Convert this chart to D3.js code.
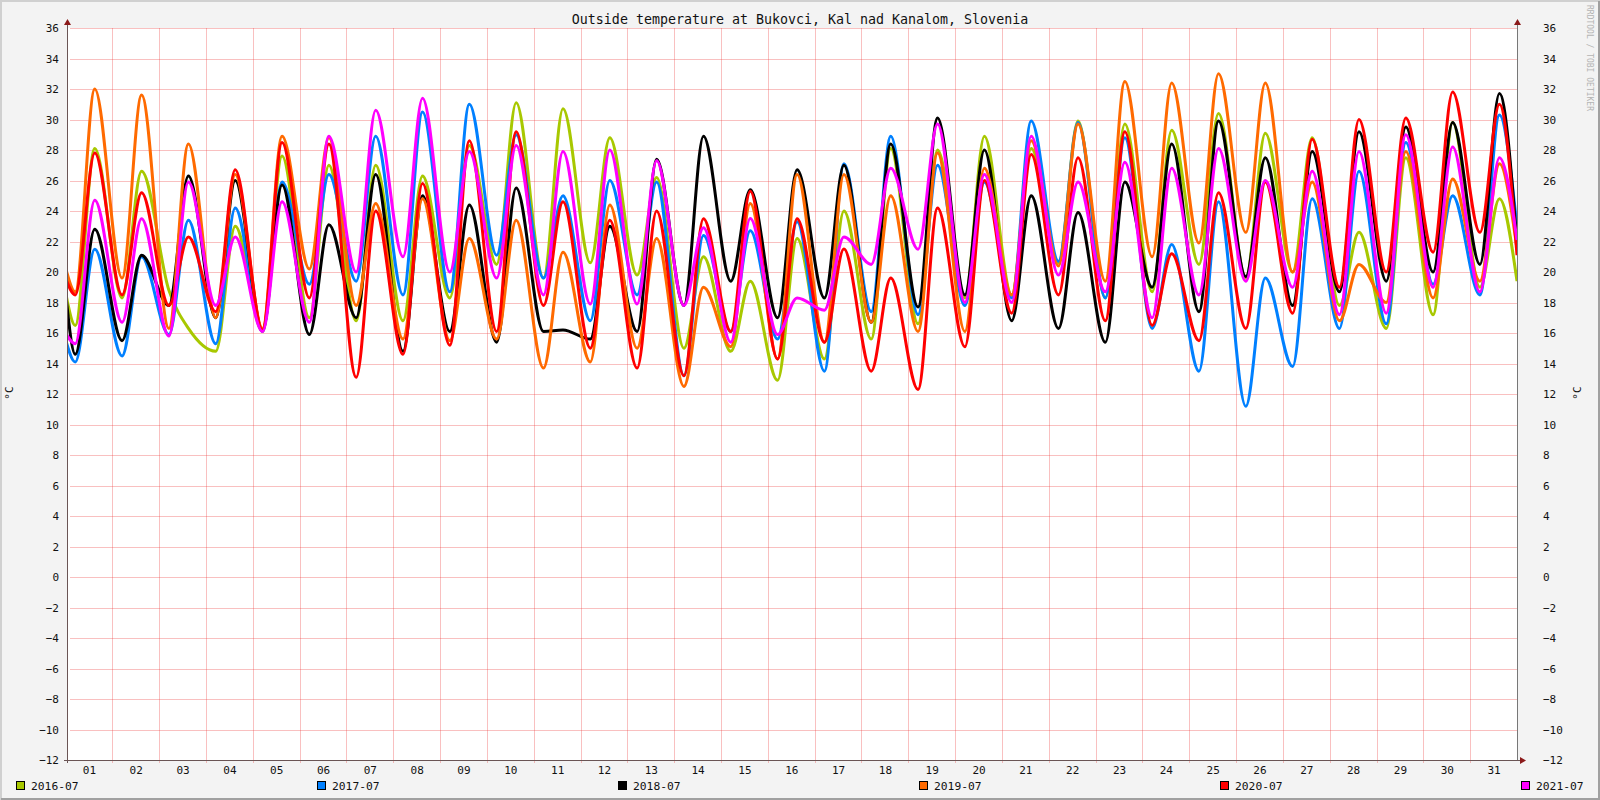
<!DOCTYPE html>
<html>
<head>
<meta charset="utf-8">
<script src="https://cdn.jsdelivr.net/npm/d3@7"></script>
<style>
  body { margin: 0; background: #f3f3f3; }
  svg { display: block; }
  text { font-family: "DejaVu Sans Mono", monospace; }
</style>
</head>
<body>
<svg id="chart" width="1600" height="800"></svg>
<script>
const dayLabels = ['01','02','03','04','05','06','07','08','09','10','11','12','13','14','15','16',
  '17','18','19','20','21','22','23','24','25','26','27','28','29','30','31'];
const yTicks = [-12,-10,-8,-6,-4,-2,0,2,4,6,8,10,12,14,16,18,20,22,24,26,28,30,32,34,36];
const years = ['2016-07','2017-07','2018-07','2019-07','2020-07','2021-07'];
const colors = ['#a8c800','#0080ff','#000000','#ff6a00','#ff0000','#ff00ff'];
// the graph window starts about 00:45 on Jul 1 and ends at midnight Aug 1 (in days)
const timeWindow = [0.032, 31];

// temperature at midnight Jul 1, around 05:00 and 15:00 each day, and midnight Aug 1
const start2016 = 18.7, end2016 = 19.4;
const lo2016 = [16.5,18.3,18.8,14.8,16.1,17.0,16.8,16.8,18.3,20.5,19.6,20.6,19.8,15.0,14.8,12.9,
  14.3,15.6,16.6,18.3,18.5,20.6,18.3,18.7,20.5,19.6,20.0,17.8,16.3,17.2,19.0];
const hi2016 = [28.1,26.6,16.3,23.0,27.6,27.0,27.0,26.3,28.3,31.1,30.7,28.8,26.2,21.0,19.4,22.2,
  24.0,28.1,28.0,28.9,28.1,29.9,29.7,29.3,30.4,29.1,28.8,22.6,27.5,29.8,24.8];

const start2017 = 15.6, end2017 = 22.9;
const lo2017 = [14.1,14.5,15.9,15.3,16.1,19.2,19.4,18.5,18.7,21.1,19.6,16.8,18.5,13.2,16.1,15.6,
  13.5,17.4,17.2,17.8,18.3,20.7,18.3,16.3,13.5,11.2,13.8,16.3,16.6,19.2,18.5];
const hi2017 = [21.5,21.0,23.4,24.2,25.9,26.4,28.9,30.5,31.0,29.0,25.0,26.0,25.9,22.4,22.7,23.3,
  27.1,28.9,27.0,25.9,29.9,29.8,28.8,21.8,24.6,19.6,24.8,26.6,28.5,25.0,30.3];

const start2018 = 18.7, end2018 = 21.8;
const lo2018 = [14.6,15.5,17.8,17.0,16.2,15.9,17.0,14.8,16.1,15.4,16.1,15.6,16.1,17.8,19.4,17.0,
  18.3,16.7,17.7,18.5,16.8,16.3,15.4,19.0,17.4,19.7,17.8,18.7,19.4,20.0,20.5];
const hi2018 = [22.8,21.1,26.3,26.0,25.7,23.1,26.4,25.0,24.4,25.5,16.2,23.0,27.4,28.9,25.4,26.7,
  27.0,28.4,30.1,28.0,25.0,23.9,25.9,28.4,29.9,27.5,27.9,29.2,29.5,29.8,31.7];

const start2019 = 20.3, end2019 = 21.5;
const lo2019 = [18.7,19.6,16.3,17.0,16.3,20.2,17.8,15.6,15.5,15.6,13.7,14.1,15.0,12.5,15.1,14.3,
  15.4,16.7,16.1,16.1,18.5,20.4,19.4,21.0,21.9,22.6,20.0,16.8,18.0,18.3,19.4];
const hi2019 = [32.0,31.6,28.4,26.4,28.9,28.8,24.5,24.8,22.2,23.4,21.3,24.4,22.2,19.0,24.5,26.4,
  26.4,25.0,27.8,26.8,28.6,29.7,32.5,32.4,33.0,32.4,25.9,20.5,27.9,26.1,27.1];

const start2020 = 19.6, end2020 = 21.1;
const lo2020 = [18.5,18.5,17.8,17.4,16.2,18.3,13.1,14.6,15.2,16.1,17.8,15.0,13.7,13.2,16.1,14.3,
  15.4,13.5,12.3,15.1,17.3,18.5,16.8,16.5,15.5,16.3,17.3,19.0,20.0,21.3,22.6];
const hi2020 = [27.8,25.2,22.3,26.7,28.5,28.4,24.0,25.8,28.6,29.2,24.6,23.4,24.0,23.5,25.3,23.5,
  21.5,19.6,24.2,26.0,27.7,27.5,29.2,21.2,25.2,25.9,28.7,30.0,30.1,31.8,31.0];

const start2021 = 16.0, end2021 = 22.1;
const lo2021 = [15.3,16.7,15.8,17.8,16.1,16.7,20.0,21.0,20.0,19.6,18.5,17.9,17.9,17.8,15.4,15.9,
  17.5,20.5,21.5,18.0,18.0,19.8,18.7,17.0,18.5,19.4,19.0,17.2,17.3,19.0,18.7];
const hi2021 = [24.7,23.5,25.9,22.3,24.6,28.9,30.6,31.4,27.9,28.3,27.9,28.0,27.3,22.9,23.5,18.3,
  22.3,26.8,29.7,26.4,28.9,25.9,27.2,26.8,28.1,26.0,26.6,27.9,29.0,28.2,27.5];

const series = [
  [start2016, lo2016, hi2016, end2016],
  [start2017, lo2017, hi2017, end2017],
  [start2018, lo2018, hi2018, end2018],
  [start2019, lo2019, hi2019, end2019],
  [start2020, lo2020, hi2020, end2020],
  [start2021, lo2021, hi2021, end2021]
].map(([s, lo, hi, e]) => {
  const pts = [[0, s]];
  lo.forEach((v, i) => { pts.push([i + 5/24, v]); pts.push([i + 15/24, hi[i]]); });
  pts.push([31, e]);
  return pts;
});

const svg = d3.select('#chart');
const W = 1600, H = 800;
const pLeft = 67, pRight = 1517, pTop = 28, pBottom = 760;

// background + 3d frame
svg.append('rect').attr('width', W).attr('height', H).attr('fill', '#f3f3f3');
svg.append('path').attr('d', `M1,${H} V1 H${W}`).attr('stroke', '#d0d0d0').attr('stroke-width', 2).attr('fill', 'none');
svg.append('path').attr('d', `M1,${H-1} H${W-1} V1`).attr('stroke', '#a0a0a0').attr('stroke-width', 2).attr('fill', 'none');
svg.append('rect').attr('x', pLeft).attr('y', pTop).attr('width', pRight - pLeft).attr('height', pBottom - pTop).attr('fill', '#fff');

const x = d3.scaleLinear().domain(timeWindow).range([pLeft, pRight]);
const y = d3.scaleLinear().domain([-12, 36]).range([pBottom, pTop]);

const gridColor = 'rgba(235,60,60,0.32)';

// horizontal grid
svg.append('g')
  .attr('transform', `translate(${pLeft},0)`)
  .call(d3.axisLeft(y).tickValues(yTicks).tickSize(-(pRight - pLeft)).tickFormat(''))
  .call(g => g.select('.domain').remove())
  .call(g => g.selectAll('line').attr('stroke', gridColor).attr('x1', 3).attr('shape-rendering', 'crispEdges'));

// vertical grid at day boundaries
svg.append('g')
  .attr('transform', `translate(0,${pBottom})`)
  .call(d3.axisBottom(x).tickValues(d3.range(1, 31)).tickSize(-(pBottom - pTop)).tickFormat(''))
  .call(g => g.select('.domain').remove())
  .call(g => g.selectAll('line').attr('stroke', gridColor).attr('y1', 3).attr('shape-rendering', 'crispEdges'));

// lines
svg.append('clipPath').attr('id', 'clip')
  .append('rect').attr('x', pLeft).attr('y', pTop).attr('width', pRight - pLeft).attr('height', pBottom - pTop);

const line = d3.line().x(d => x(d[0])).y(d => y(d[1])).curve(d3.curveMonotoneX);
svg.append('g').attr('clip-path', 'url(#clip)')
  .selectAll('path').data(series).join('path')
  .attr('d', line)
  .attr('fill', 'none')
  .attr('stroke', (d, i) => colors[i])
  .attr('stroke-width', 3)
  .attr('stroke-linejoin', 'round');

// y labels left and right
svg.append('g')
  .attr('transform', `translate(${pLeft},0)`)
  .call(d3.axisLeft(y).tickValues(yTicks).tickSize(0).tickPadding(8))
  .call(g => g.select('.domain').remove())
  .call(g => g.selectAll('text').attr('font-size', 11).attr('fill', '#111').style('font-family', '"DejaVu Sans Mono", monospace'));
svg.append('g')
  .attr('transform', `translate(${pRight},0)`)
  .call(d3.axisRight(y).tickValues(yTicks).tickSize(0).tickPadding(26))
  .call(g => g.select('.domain').remove())
  .call(g => g.selectAll('text').attr('font-size', 11).attr('fill', '#111').style('font-family', '"DejaVu Sans Mono", monospace'));

// day labels
svg.append('g')
  .attr('transform', `translate(0,${pBottom})`)
  .call(d3.axisBottom(x).tickValues(dayLabels.map((d, i) => i + 0.5)).tickSize(0).tickPadding(6)
    .tickFormat((d, i) => dayLabels[i]))
  .call(g => g.select('.domain').remove())
  .call(g => g.selectAll('text').attr('font-size', 11).attr('fill', '#111').style('font-family', '"DejaVu Sans Mono", monospace'));

// axes lines and arrows
const axisColor = '#6a5555';
const arrowColor = '#8b1a1a';
svg.append('line').attr('x1', pLeft + 0.5).attr('x2', pLeft + 0.5).attr('y1', pTop - 5).attr('y2', pBottom + 3)
  .attr('stroke', axisColor);
svg.append('line').attr('x1', pRight + 0.5).attr('x2', pRight + 0.5).attr('y1', pTop - 5).attr('y2', pBottom)
  .attr('stroke', '#777');
svg.append('line').attr('x1', pLeft - 3).attr('x2', pRight + 5).attr('y1', pBottom + 0.5).attr('y2', pBottom + 0.5)
  .attr('stroke', axisColor);
svg.append('path').attr('d', `M${pLeft - 3},${pTop - 3} L${pLeft + 4},${pTop - 3} L${pLeft + 0.5},${pTop - 9} Z`).attr('fill', arrowColor);
svg.append('path').attr('d', `M${pRight - 3},${pTop - 3} L${pRight + 4},${pTop - 3} L${pRight + 0.5},${pTop - 9} Z`).attr('fill', arrowColor);
svg.append('path').attr('d', `M${pRight + 3},${pBottom - 3} L${pRight + 3},${pBottom + 4} L${pRight + 9},${pBottom + 0.5} Z`).attr('fill', arrowColor);

// title
svg.append('text')
  .attr('x', W / 2).attr('y', 24)
  .attr('text-anchor', 'middle')
  .attr('font-size', 13.3).attr('fill', '#111')
  .text('Outside temperature at Bukovci, Kal nad Kanalom, Slovenia');

// unit labels
svg.append('text')
  .attr('transform', 'translate(13,393) rotate(-90)')
  .attr('text-anchor', 'middle').attr('font-size', 11).attr('fill', '#111')
  .text('°C');
svg.append('text')
  .attr('transform', 'translate(1581,393) rotate(-90)')
  .attr('text-anchor', 'middle').attr('font-size', 11).attr('fill', '#111')
  .text('°C');

// watermark
svg.append('text')
  .attr('transform', 'translate(1587,5) rotate(90)')
  .attr('font-size', 8).attr('fill', '#b4b4b4')
  .text('RRDTOOL / TOBI OETIKER');

// legend
const legend = svg.append('g').selectAll('g').data(years).join('g')
  .attr('transform', (d, i) => `translate(${16 + i * 301},781)`);
legend.append('rect').attr('x', 0.5).attr('y', 0.5).attr('width', 8).attr('height', 8)
  .attr('fill', (d, i) => colors[i]).attr('stroke', '#000');
legend.append('text').attr('x', 15).attr('y', 9)
  .attr('font-size', 11.3).attr('fill', '#111')
  .text(d => d);
</script>
</body>
</html>
